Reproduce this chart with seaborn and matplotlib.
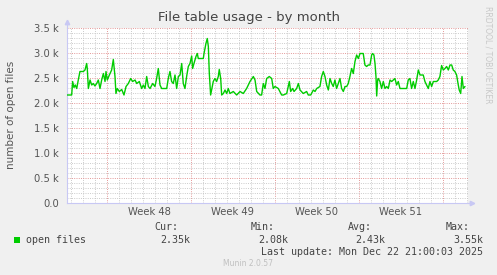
import numpy as np
import pandas as pd
import matplotlib
matplotlib.use("Agg")
import matplotlib.pyplot as plt
import seaborn as sns
from matplotlib.ticker import FixedLocator, MultipleLocator, FuncFormatter, NullFormatter
from matplotlib.patches import Rectangle

# ---- data (days from left edge of the graph, open files) ----
days = [0.00, 0.39, 0.47, 0.58, 0.69, 0.81, 0.94, 1.08, 1.36, 1.50, 1.58, 1.64, 1.69, 1.78, 1.92,
        2.06, 2.19, 2.33, 2.47, 2.61, 2.75, 2.89, 3.03, 3.17, 3.25, 3.36, 3.53, 3.72, 3.86, 4.00,
        4.08, 4.19, 4.36, 4.56, 4.75, 4.92, 5.11, 5.31, 5.47, 5.67, 5.81, 6.03, 6.22, 6.36, 6.50,
        6.64, 6.78, 6.92, 7.14, 7.33, 7.47, 7.61, 7.75, 7.89, 8.08, 8.31, 8.44, 8.58, 8.72, 8.86,
        9.00, 9.14, 9.28, 9.42, 9.56, 9.69, 9.83, 9.97, 10.11, 10.25, 10.39, 10.47, 10.58, 10.75,
        10.86, 10.94, 11.36, 11.42, 11.58, 11.69, 11.78, 11.86, 11.97, 12.08, 12.19, 12.33, 12.47,
        12.61, 12.69, 12.81, 12.89, 13.03, 13.17, 13.31, 13.44, 13.58, 13.86, 14.14, 14.42, 14.69,
        14.97, 15.11, 15.25, 15.53, 15.67, 15.81, 16.08, 16.22, 16.36, 16.50, 16.64, 16.86, 17.06,
        17.19, 17.33, 17.61, 17.89, 18.03, 18.31, 18.44, 18.53, 18.64, 18.81, 18.92, 19.14, 19.28,
        19.42, 19.69, 19.97, 20.11, 20.31, 20.53, 20.67, 20.81, 21.08, 21.22, 21.36, 21.50, 21.64,
        21.78, 21.92, 22.06, 22.19, 22.33, 22.47, 22.61, 22.75, 22.89, 23.03, 23.17, 23.31, 23.44,
        23.58, 23.72, 23.86, 24.00, 24.14, 24.28, 24.42, 24.69, 24.83, 24.97, 25.11, 25.25, 25.39,
        25.47, 25.58, 25.67, 25.75, 25.81, 25.89, 25.94, 26.08, 26.22, 26.36, 26.50, 26.64, 26.78,
        26.92, 27.06, 27.19, 27.33, 27.47, 27.61, 27.75, 28.03, 28.31, 28.44, 28.58, 28.72, 28.86,
        29.00, 29.14, 29.28, 29.42, 29.69, 29.83, 29.97, 30.11, 30.25, 30.39, 30.53, 30.81, 30.94,
        31.08, 31.22, 31.36, 31.50, 31.64, 31.78, 31.92, 32.06, 32.19, 32.33, 32.47, 32.61, 32.69,
        32.81, 32.92, 33.03, 33.17]
open_files = [2160, 2160, 2430, 2310, 2360, 2290, 2460, 2630, 2630, 2660, 2730, 2790, 2690, 2290, 2460,
              2360, 2390, 2340, 2390, 2460, 2290, 2460, 2590, 2430, 2630, 2460, 2560, 2660, 2870, 2530,
              2190, 2290, 2230, 2270, 2160, 2330, 2390, 2490, 2430, 2460, 2390, 2430, 2290, 2360, 2290,
              2530, 2330, 2290, 2390, 2330, 2490, 2690, 2360, 2290, 2290, 2290, 2490, 2630, 2430, 2390,
              2560, 2290, 2530, 2560, 2790, 2390, 2290, 2530, 2730, 2790, 2940, 2690, 2790, 2930,
              2990, 2890, 2890, 2990, 3190, 3290, 3130, 2590, 2160, 2290, 2430, 2490, 2430,
              2530, 2670, 2490, 2160, 2190, 2260, 2190, 2290, 2190, 2230, 2160, 2230, 2190,
              2290, 2360, 2430, 2530, 2460, 2230, 2160, 2160, 2390, 2290, 2490, 2530, 2490,
              2290, 2330, 2290, 2160, 2160, 2190, 2330, 2430, 2230, 2290, 2230, 2290, 2390,
              2260, 2190, 2230, 2160, 2160, 2260, 2230, 2290, 2330, 2530, 2630, 2530, 2360,
              2260, 2490, 2390, 2330, 2460, 2290, 2390, 2490, 2290, 2230, 2330, 2330, 2390,
              2530, 2690, 2590, 2830, 2960, 2890, 2990, 2990, 2760, 2730, 2760, 2760, 2960,
              2990, 2960, 2790, 2530, 2140, 2460, 2490, 2430, 2290, 2430, 2290, 2330, 2290,
              2460, 2430, 2460, 2490, 2360, 2430, 2290, 2290, 2290, 2460, 2490, 2290, 2430,
              2290, 2460, 2660, 2560, 2560, 2430, 2360, 2290, 2430, 2330, 2430, 2430, 2460,
              2530, 2750, 2660, 2690, 2730, 2660, 2760, 2760, 2660, 2630, 2560, 2360, 2260,
              2190, 2530, 2290, 2330]
week_starts = [3.33, 10.33, 17.33, 24.33, 31.33]
week_labels = ["Week 48", "Week 49", "Week 50", "Week 51"]
y_major = [0, 500, 1000, 1500, 2000, 2500, 3000, 3500]
series_name = "open files"
stat_names = ["Cur:", "Min:", "Avg:", "Max:"]
stat_values = ["2.35k", "2.08k", "2.43k", "3.55k"]
title = "File table usage - by month"
ylabel = "number of open files"
last_update = "Last update: Mon Dec 22 21:00:03 2025"
footer = "Munin 2.0.57"
side_text = "RRDTOOL / TOBI OETIKER"

W, H = 497, 275
sns.set_theme(style="white")
plt.rcParams['font.family'] = ['DejaVu Sans']

fig = plt.figure(figsize=(W / 100, H / 100), dpi=100, facecolor="#f0f0f0")
ax = fig.add_axes([67 / W, 1 - 203 / H, 401 / W, 175 / H])
ax.set_facecolor("white")

df = pd.DataFrame({"day": days, series_name: open_files})
sns.lineplot(data=df, x="day", y=series_name, ax=ax, color="#00cc00", linewidth=1.0, zorder=5)

ax.set_xlim(0, 33.42)
ax.set_ylim(0, 3500)

# grid
minor_days = [d for d in np.arange(0.33, 33.42, 1.0) if all(abs(d - w) > 0.05 for w in week_starts)]
ax.xaxis.set_major_locator(FixedLocator(week_starts))
ax.xaxis.set_minor_locator(FixedLocator(minor_days))
ax.yaxis.set_major_locator(FixedLocator(y_major))
ax.yaxis.set_minor_locator(MultipleLocator(100))
ax.grid(which="minor", color="#c4c4c4", linestyle=(0, (1, 1.5)), linewidth=0.65)
ax.grid(which="major", color="#e08a8a", linestyle=(0, (1, 1.5)), linewidth=0.65)
ax.set_axisbelow(True)

ax.xaxis.set_major_formatter(NullFormatter())
ax.yaxis.set_major_formatter(FuncFormatter(lambda v, p: "0.0" if v == 0 else f"{v / 1000:.1f} k"))
ax.tick_params(axis="y", which="major", labelsize=7.2, colors="#555555", length=0, pad=6)
ax.tick_params(axis="y", which="minor", length=0)
ax.tick_params(axis="x", which="major", length=2, color="#e07070", direction="out")
ax.tick_params(axis="x", which="minor", length=2, color="#c0c0c0", direction="out")
ax.set_xlabel("")
ax.set_ylabel("")

for s in ["top", "right"]:
    ax.spines[s].set_visible(False)
for s in ["left", "bottom"]:
    ax.spines[s].set_color("#c8c8f4")
    ax.spines[s].set_linewidth(0.8)
# axis arrows
ax.plot([0, 0], [1.0, 1.03], transform=ax.transAxes, color="#c8c8f4", lw=0.8, clip_on=False)
ax.plot([0], [1.033], transform=ax.transAxes, marker="^", color="#c8c8f4", ms=3.2, clip_on=False)
ax.plot([1.0, 1.01], [0, 0], transform=ax.transAxes, color="#c8c8f4", lw=0.8, clip_on=False)
ax.plot([1.011], [0], transform=ax.transAxes, marker=">", color="#c8c8f4", ms=3.2, clip_on=False)

# week labels centered between week boundaries
for i, lab in enumerate(week_labels):
    mid = (week_starts[i] + week_starts[i + 1]) / 2
    ax.text(mid, -0.05, lab, transform=ax.get_xaxis_transform(), ha="center", va="center",
            fontsize=7.2, color="#555555")

# texts
fig.text(0.5, 1 - 17 / H, title, ha="center", va="center", fontsize=9.5, color="#444444")
fig.text(11 / W, 1 - 115 / H, ylabel, rotation=90, ha="center", va="center", fontsize=7.5, color="#555555")
fig.text(488 / W, 1 - 55 / H, side_text, rotation=270, ha="center", va="center", fontsize=5.5, color="#c8c8c8")

mono = "DejaVu Sans Mono"
fig.patches.append(Rectangle((14 / W, 1 - 243 / H), 6 / W, 6 / H, transform=fig.transFigure,
                             facecolor="#00cc00", edgecolor="none"))
fig.text(26 / W, 1 - 240 / H, series_name, ha="left", va="center", family=mono, fontsize=7.2, color="#444444")
head_right = [178, 275, 372, 470]
val_right = [190, 288, 385, 483]
for n, v, hr, vr in zip(stat_names, stat_values, head_right, val_right):
    fig.text(hr / W, 1 - 227 / H, n, ha="right", va="center", family=mono, fontsize=7.2, color="#444444")
    fig.text(vr / W, 1 - 240 / H, v, ha="right", va="center", family=mono, fontsize=7.2, color="#444444")
fig.text(483 / W, 1 - 252 / H, last_update, ha="right", va="center", family=mono, fontsize=7.2, color="#444444")
fig.text(248 / W, 1 - 264 / H, footer, ha="center", va="center", fontsize=5.5, color="#c0c0c0")

fig.savefig("out.png", dpi=100, facecolor=fig.get_facecolor())
